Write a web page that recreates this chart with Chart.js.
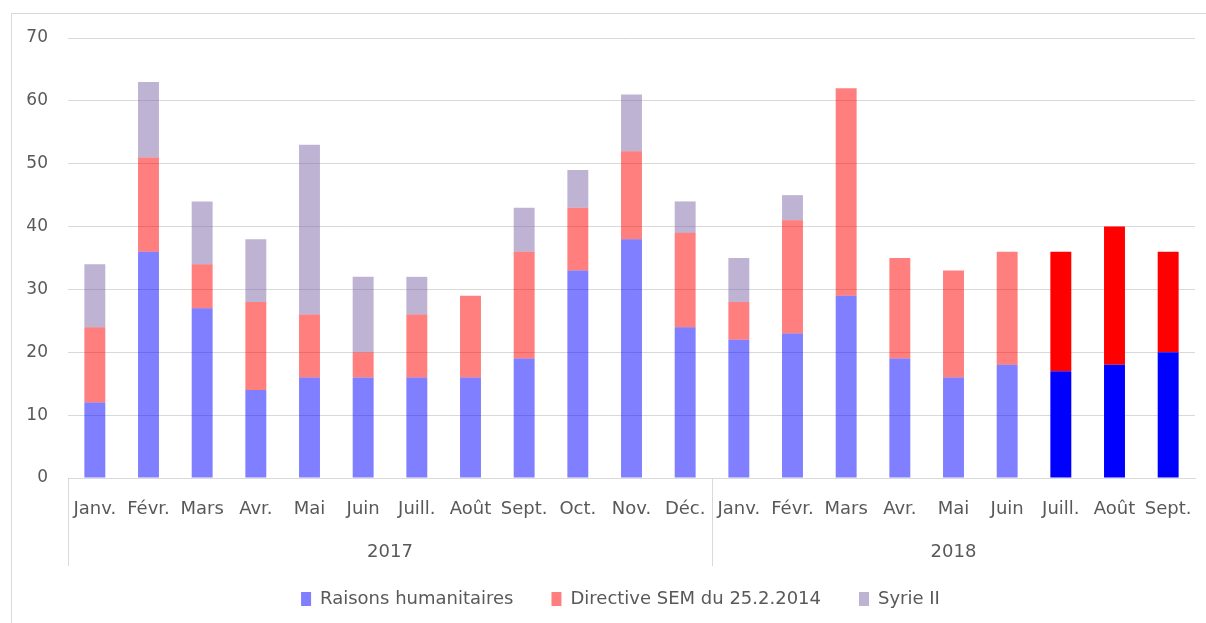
<!DOCTYPE html>
<html>
<head>
<meta charset="utf-8">
<script src="https://cdn.jsdelivr.net/npm/chart.js@4"></script>
<style>
  html, body { margin: 0; padding: 0; background: #fff; }
  body { width: 1206px; height: 623px; position: relative; overflow: hidden; }
  #frame { position: absolute; left: 11px; top: 13px; right: 0; bottom: 0;
           border-left: 1px solid #d9d9d9; border-top: 1px solid #d9d9d9; }
  #wrap { position: absolute; left: 12px; top: 14px; width: 1194px; height: 609px; }
</style>
</head>
<body>
<div id="frame"></div>
<div id="wrap"><canvas id="c" width="1194" height="609"></canvas></div>
<script>
const months = ['Janv.','Févr.','Mars','Avr.','Mai','Juin','Juill.','Août','Sept.','Oct.','Nov.','Déc.',
                'Janv.','Févr.','Mars','Avr.','Mai','Juin','Juill.','Août','Sept.'];
const yearLabels = ['2017','2018'];
const yearSpans = [12, 9];
const humanitaires = [12,36,27,14,16,16,16,16,19,33,38,24, 22,23,29,19,16,18,17,18,20];
const directiveSEM = [12,15,7,14,10,4,10,13,17,10,14,15, 6,18,33,16,17,18,19,22,16];
const syrieII      = [10,12,10,10,27,12,6,0,7,6,9,5, 7,4,0,0,0,0,0,0,0];
const solidFrom = 18;
const yTicks = [0,10,20,30,40,50,60,70];

const FONT = "'DejaVu Sans', sans-serif";
const TXT = '#595959';
const GRID = '#d9d9d9';

function col(light, solid) {
  return (ctx) => (ctx.type === 'data' && ctx.dataIndex >= solidFrom) ? solid : light;
}

const yearPlugin = {
  id: 'years',
  afterLayout(chart) {
    // centre the legend like the original (slightly right of canvas centre)
    chart.legend.left += 34;
  },
  afterDraw(chart) {
    const x = chart.scales.x;
    const c = chart.ctx;
    const step = x.getPixelForValue(1) - x.getPixelForValue(0);
    const top = chart.chartArea.bottom;
    const bottom = top + 88;
    c.save();
    c.strokeStyle = GRID;
    c.lineWidth = 1;
    c.fillStyle = TXT;
    c.font = "18px " + FONT;
    c.textAlign = 'center';
    c.textBaseline = 'middle';
    let start = 0;
    yearSpans.forEach((n, i) => {
      const left = x.getPixelForValue(start) - step / 2;
      const right = x.getPixelForValue(start + n - 1) + step / 2;
      c.beginPath();
      c.moveTo(Math.round(left) + 0.5, top);
      c.lineTo(Math.round(left) + 0.5, bottom);
      c.stroke();
      c.fillText(yearLabels[i], (left + right) / 2, top + 74);
      start += n;
    });
    c.restore();
  }
};

new Chart(document.getElementById('c'), {
  type: 'bar',
  data: {
    labels: months,
    datasets: [
      { label: 'Raisons humanitaires', data: humanitaires,
        backgroundColor: col('rgba(0,0,255,0.5)', '#0000ff') },
      { label: 'Directive SEM du 25.2.2014', data: directiveSEM,
        backgroundColor: col('rgba(255,0,0,0.5)', '#ff0000') },
      { label: 'Syrie II', data: syrieII,
        backgroundColor: 'rgba(127,103,167,0.5)' }
    ]
  },
  options: {
    responsive: false,
    animation: false,
    devicePixelRatio: 1,
    barPercentage: 0.39,
    categoryPercentage: 1,
    layout: { padding: { top: 24, right: 11, left: 0, bottom: 5 } },
    plugins: {
      legend: {
        position: 'bottom',
        labels: {
          boxWidth: 10, boxHeight: 14,
          font: { family: FONT, size: 18 },
          color: TXT,
          padding: 38
        }
      },
      tooltip: { enabled: false }
    },
    scales: {
      x: {
        stacked: true,
        grid: { display: false, drawTicks: false },
        border: { display: true, color: GRID },
        ticks: { color: TXT, font: { family: FONT, size: 18 }, padding: 21, maxRotation: 0, autoSkip: false },
        afterFit(s) { s.height = 74; s.paddingLeft = 0; s.paddingRight = 0; }
      },
      y: {
        stacked: true,
        min: 0, max: 70,
        afterBuildTicks(s) { s.ticks = yTicks.map(v => ({ value: v })); },
        grid: { color: GRID, drawTicks: false },
        border: { display: false },
        ticks: { color: TXT, font: { family: FONT, size: 17 }, padding: 20 },
        afterFit(s) { s.width = 56; s.paddingTop = 0; s.paddingBottom = 0; }
      }
    }
  },
  plugins: [yearPlugin]
});
</script>
</body>
</html>
